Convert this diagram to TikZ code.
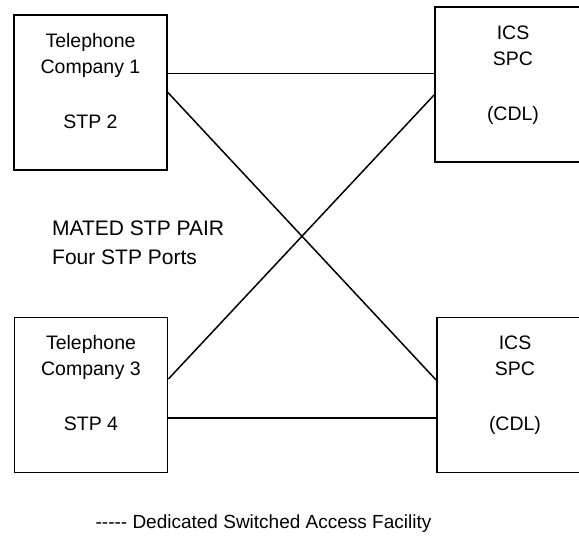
\documentclass[tikz,border=0pt]{standalone}
\usepackage{fontspec}
\setmainfont{Liberation Sans}
\usetikzlibrary{positioning}

\tikzset{
  sitebox/.style={draw, line width=1.8pt, minimum width=153pt,
    minimum height=155pt, inner sep=0pt},
  sitetext/.style={align=center, inner sep=0pt,
    font=\fontsize{19.5}{26}\selectfont},
  link/.style={line width=1.5pt},
}

\begin{document}
\begin{tikzpicture}[x=1pt, y=-1pt]
  \clip (0,0) rectangle (579,548);

  % the four switching points
  \node[sitebox] (tc1) at (90.5,92.5) {};
  \node[sitebox] (tc3) at (91,395) {};
  \node[sitebox, minimum width=156pt] (ics1) at (513,84.5) {};
  \node[sitebox, minimum width=156pt] (ics2) at (515,395) {};

  \node[sitetext, below=19pt of tc1.north] (tc1txt)
    {Telephone\\Company 1\\[29pt]STP 2};
  \node[sitetext, below=19pt of tc3.north] (tc3txt)
    {Telephone\\Company 3\\[29pt]STP 4};
  \node[sitetext, below=20pt of ics1.north] (ics1txt)
    {ICS\\SPC\\[29pt](CDL)};
  \node[sitetext, below=19pt of ics2.north] (ics2txt)
    {ICS\\SPC\\[29pt](CDL)};

  \node[sitetext, align=left, anchor=north west,
    font=\fontsize{21}{26}\selectfont] (mated) at (52,221)
    {MATED STP PAIR\\[3pt]Four STP Ports};
  \node[sitetext, font=\fontsize{19}{26}\selectfont, anchor=base]
    (legend) at (263.5,528)
    {{-}{-}{-}{-}{-} Dedicated Switched Access Facility};

  % links
  \draw[link] ([yshift=19pt]tc1.east) -- ([yshift=19pt]tc1.east -| ics1.west);
  \draw[link] (tc1.east) -- ([yshift=15pt]ics2.west);
  \draw[link] ([yshift=16pt]tc3.east) -- ([yshift=-10.5pt]ics1.west);
  \draw[link] ([yshift=-23pt]tc3.east) -- ([yshift=-23pt]tc3.east -| ics2.west);
\end{tikzpicture}
\end{document}
